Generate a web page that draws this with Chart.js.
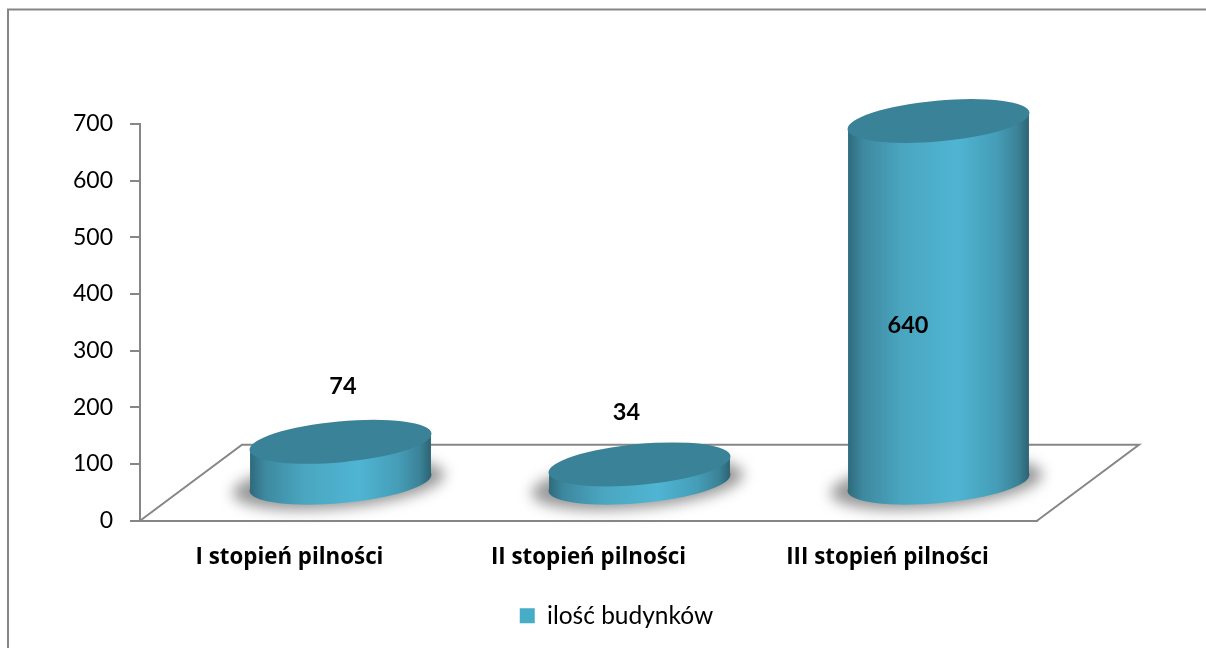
<!DOCTYPE html>
<html>
<head>
<meta charset="utf-8">
<title>ilość budynków</title>
<script src="https://cdn.jsdelivr.net/npm/chart.js@4"></script>
<style>
	html, body { margin: 0; padding: 0; background: #fff; overflow: hidden; }
	canvas { display: block; }
</style>
</head>
<body>
<canvas id="myChart" width="1206" height="648"></canvas>
<script>
const categories = ['I stopień pilności', 'II stopień pilności', 'III stopień pilności'];
const values = [74, 34, 640];
const seriesName = 'ilość budynków';
const yTicks = [0, 100, 200, 300, 400, 500, 600, 700];

const fontName = 'Lato, "Open Sans", sans-serif';
const boldFontName = '"Open Sans", Lato, sans-serif';
const axisColor = '#868686';

// offset of the floor's back edge from the chart area
const depthX = 102;
const depthY = 76;

// border of the picture, only top and left are visible
const framePlugin = {
	id: 'frame',
	beforeDraw(chart) {
		let ctx = chart.ctx;
		ctx.save();
		ctx.strokeStyle = axisColor;
		ctx.lineWidth = 2;
		ctx.beginPath();
		ctx.moveTo(8, chart.height);
		ctx.lineTo(8, 9.5);
		ctx.lineTo(chart.width, 9.5);
		ctx.stroke();

		let a = chart.chartArea;
		ctx.beginPath();
		ctx.moveTo(a.left, a.bottom);
		ctx.lineTo(a.left + depthX, a.bottom - depthY);
		ctx.lineTo(a.right + depthX, a.bottom - depthY);
		ctx.lineTo(a.right, a.bottom);
		ctx.stroke();
		ctx.restore();
	}
};

function ellipsePath(ctx, x, y, rx, ry) {
	ctx.ellipse(x, y, rx, ry, -5.3 * Math.PI / 180, 0, Math.PI * 2);
}

// bars are turned into tilted cylinders standing in the middle of the floor
const cylinderPlugin = {
	id: 'cylinder',
	afterLayout(chart) {
		// legend sits lower and a bit right of the canvas middle
		let legend = chart.legend;
		let shift = 616.5 - (legend.left + legend.right) / 2;
		legend.left += shift;
		legend.right += shift;
		legend.top += 9;
		legend.bottom += 9;
	},
	afterDatasetsDraw(chart) {
		let ctx = chart.ctx;
		let meta = chart.getDatasetMeta(0);
		let offX = depthX / 2;
		let offY = depthY / 2 - 1;

		meta.data.forEach(function(bar) {
			let cx = bar.x + offX;
			let half = bar.width / 2;
			let rx = half * 1.01;
			let ry = bar.width * 0.113;
			let topY = bar.y - offY;
			let baseY = bar.base - offY;
			let edge = 8;

			ctx.save();
			ctx.filter = 'blur(7px)';
			ctx.fillStyle = '#989898';
			ctx.beginPath();
			ellipsePath(ctx, cx - 2, baseY + 1, rx + 15, ry + 4);
			ctx.fill();
			ctx.restore();

			let grad = ctx.createLinearGradient(cx - half, 0, cx + half, 0);
			grad.addColorStop(0, '#2f6a7c');
			grad.addColorStop(0.08, '#3d889f');
			grad.addColorStop(0.3, '#4aa6c0');
			grad.addColorStop(0.6, '#4fb5d3');
			grad.addColorStop(0.82, '#459db7');
			grad.addColorStop(0.94, '#3b8297');
			grad.addColorStop(1, '#2c6374');

			ctx.save();
			ctx.fillStyle = grad;
			ctx.beginPath();
			ellipsePath(ctx, cx, baseY, rx, ry);
			ctx.fill();
			ctx.beginPath();
			ctx.moveTo(cx - half, topY + edge);
			ctx.lineTo(cx + half, topY - edge);
			ctx.lineTo(cx + half, baseY - edge);
			ctx.lineTo(cx - half, baseY + edge);
			ctx.closePath();
			ctx.fill();

			ctx.fillStyle = '#3a8298';
			ctx.beginPath();
			ellipsePath(ctx, cx, topY, rx, ry);
			ctx.fill();
			ctx.restore();
		});

		// value labels, offsets measured from the 2d top of the bar
		const labelShift = [[53.5, -92], [38, -88.6], [20.5, 167]];
		ctx.save();
		ctx.font = 'bold 23.5px ' + fontName;
		ctx.fillStyle = '#000';
		ctx.textAlign = 'center';
		ctx.textBaseline = 'middle';
		meta.data.forEach(function(bar, i) {
			ctx.fillText(values[i], bar.x + labelShift[i][0], bar.y + labelShift[i][1]);
		});
		ctx.restore();
	}
};

new Chart(document.getElementById('myChart').getContext('2d'), {
	type: 'bar',
	data: {
		labels: categories,
		datasets: [{
			label: seriesName,
			data: values,
			backgroundColor: 'rgba(0,0,0,0)',
			borderWidth: 0,
			categoryPercentage: 1,
			barPercentage: 0.605
		}]
	},
	plugins: [framePlugin, cylinderPlugin],
	options: {
		responsive: false,
		animation: false,
		devicePixelRatio: 1,
		layout: {
			padding: { top: 124, right: 169, left: 0, bottom: 19 }
		},
		plugins: {
			title: { display: false },
			tooltip: { enabled: false },
			legend: {
				position: 'bottom',
				labels: {
					boxWidth: 15,
					boxHeight: 15,
					color: '#000',
					padding: 8,
					font: { family: fontName, size: 24.5 },
					generateLabels() {
						return [{ text: seriesName, fillStyle: '#47acc6', strokeStyle: '#47acc6', lineWidth: 0, datasetIndex: 0 }];
					}
				}
			}
		},
		scales: {
			x: {
				grid: { display: false },
				border: { color: axisColor, width: 2 },
				ticks: {
					color: '#000',
					maxRotation: 0,
					padding: 15.5,
					font: { family: boldFontName, size: 22.3, weight: 'bold' }
				}
			},
			y: {
				min: 0,
				max: 700,
				afterFit(scale) { scale.width = 140; },
				afterBuildTicks(scale) { scale.ticks = yTicks.map(v => ({ value: v })); },
				grid: { drawOnChartArea: false, color: axisColor, lineWidth: 2, tickLength: 10 },
				border: { color: axisColor, width: 2 },
				ticks: {
					color: '#000',
					padding: 17,
					font: { family: fontName, size: 23 }
				}
			}
		}
	}
});
</script>
</body>
</html>
